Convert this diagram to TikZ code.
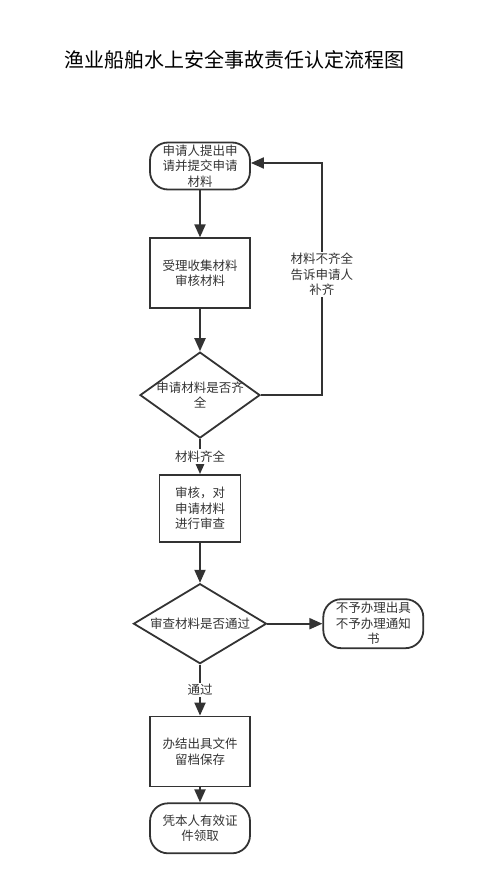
\documentclass[tikz,border=0pt]{standalone}
\usepackage{fontspec}
\setmainfont{Noto Sans CJK SC}
\usepackage{tikz}
\usetikzlibrary{arrows.meta,positioning,shapes.geometric}

\begin{document}
\begin{tikzpicture}[
  x=1pt, y=1pt,
  every node/.style={font=\fontsize{12.5}{15.5}\selectfont, text=black!80},
  startstop/.style={rectangle, rounded corners=18pt, draw=black!80, line width=1.8pt, minimum width=100pt, minimum height=47pt, align=center, inner sep=2pt},
  process/.style={rectangle, draw=black!80, line width=1.8pt, minimum width=100pt, minimum height=70pt, align=center},
  decision/.style={diamond, draw=black!80, line width=1.8pt, inner sep=-6pt, align=center},
  lbl/.style={fill=white, inner sep=1.5pt, align=center},
  arr/.style={-{Triangle[length=13pt,width=11pt]}, draw=black!80, line width=2pt}
]
  \useasboundingbox (0,0) rectangle (490,-882);

  \node[font=\fontsize{20}{24}\selectfont, text=black] (title) at (234,-60) {渔业船舶水上安全事故责任认定流程图};

  \node[startstop] (apply) at (200,-166) {申请人提出申\\请并提交申请\\材料};
  \node[process, below=47pt of apply] (accept) {受理收集材料\\审核材料};
  \node[decision, below=42pt of accept, aspect=1.4, minimum width=120pt, minimum height=86pt] (complete) {申请材料是否齐\\全};
  \node[process, below=35pt of complete, minimum width=81pt, minimum height=67pt] (review) {审核，对\\申请材料\\进行审查};
  \node[decision, below=40pt of review, aspect=1.66, minimum width=133pt, minimum height=80pt] (pass) {审查材料是否通过};
  \node[startstop, right=55pt of pass, minimum height=49pt] (refuse) {不予办理出具\\不予办理通知\\书};
  \node[process, below=51pt of pass] (issue) {办结出具文件\\留档保存};
  \node[startstop, below=15pt of issue, minimum height=50pt] (collect) {凭本人有效证\\件领取};

  \draw[arr] (apply) -- (accept);
  \draw[arr] (accept) -- (complete);
  \draw[arr] (complete.east) -- ++(61,0) |- node[pos=0.26, lbl]{材料不齐全\\告诉申请人\\补齐} ([yshift=3pt]apply.east);
  \draw[arr] (complete) -- node[lbl]{材料齐全} (review);
  \draw[arr] (review) -- (pass);
  \draw[arr] (pass) -- (refuse);
  \draw[arr] (pass) -- node[lbl]{通过} (issue);
  \draw[arr] (issue) -- (collect);
\end{tikzpicture}
\end{document}
